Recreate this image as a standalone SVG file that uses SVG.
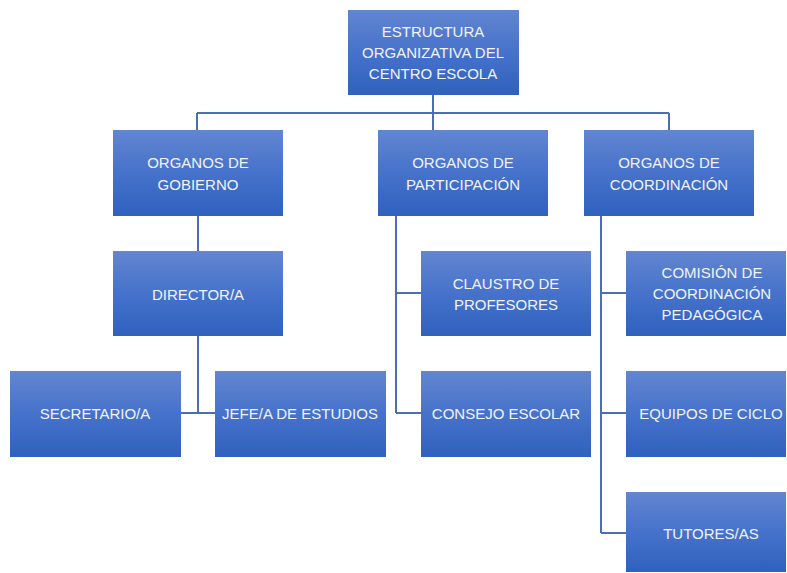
<svg xmlns="http://www.w3.org/2000/svg" width="787" height="573" viewBox="0 0 787 573">
<defs>
<linearGradient id="g" x1="0" y1="0" x2="0" y2="1">
<stop offset="0" stop-color="#6286D0"/>
<stop offset="0.5" stop-color="#4672CB"/>
<stop offset="1" stop-color="#2F61BE"/>
</linearGradient>
</defs>
<style>
.b{fill:url(#g);}
.t{font-family:"Liberation Sans",Arial,sans-serif;font-size:15px;fill:#F2F4FA;text-anchor:middle;dominant-baseline:central;}
.c{stroke:#4A6FB5;stroke-width:2;fill:none;}
</style>
<g id="connectors">
<path class="c" d="M433 95V113M197 113H669M197 113V130M433 113V130M669 113V130"/>
<path class="c" d="M198 216V251M198 336V413M181 413H215"/>
<path class="c" d="M396 216V413M396 293H421M396 413H421"/>
<path class="c" d="M601 216V533M601 293H626M601 413H626M601 533H626"/>
</g>
<g id="root"><rect class="b" x="348" y="10" width="171" height="85"/>
<text class="t" x="433" y="31">ESTRUCTURA</text><text class="t" x="433" y="52">ORGANIZATIVA DEL</text><text class="t" x="433" y="73">CENTRO ESCOLA</text></g>
<g id="gobierno"><rect class="b" x="113" y="130" width="170" height="86"/>
<text class="t" x="198" y="162">ORGANOS DE</text><text class="t" x="198" y="184">GOBIERNO</text></g>
<g id="participacion"><rect class="b" x="378" y="130" width="170" height="86"/>
<text class="t" x="463" y="162">ORGANOS DE</text><text class="t" x="463" y="184">PARTICIPACIÓN</text></g>
<g id="coordinacion"><rect class="b" x="584" y="130" width="170" height="86"/>
<text class="t" x="669" y="162">ORGANOS DE</text><text class="t" x="669" y="184">COORDINACIÓN</text></g>
<g id="director"><rect class="b" x="113" y="251" width="170" height="85"/>
<text class="t" x="198" y="294">DIRECTOR/A</text></g>
<g id="secretario"><rect class="b" x="10" y="371" width="171" height="86"/>
<text class="t" x="95" y="413">SECRETARIO/A</text></g>
<g id="jefe"><rect class="b" x="215" y="371" width="171" height="86"/>
<text class="t" x="300" y="413">JEFE/A DE ESTUDIOS</text></g>
<g id="claustro"><rect class="b" x="421" y="251" width="170" height="85"/>
<text class="t" x="506" y="283">CLAUSTRO DE</text><text class="t" x="506" y="304">PROFESORES</text></g>
<g id="consejo"><rect class="b" x="421" y="371" width="170" height="86"/>
<text class="t" x="506" y="413">CONSEJO ESCOLAR</text></g>
<g id="comision"><rect class="b" x="626" y="251" width="160" height="85"/>
<text class="t" x="712" y="272">COMISIÓN DE</text><text class="t" x="712" y="293">COORDINACIÓN</text><text class="t" x="712" y="314">PEDAGÓGICA</text></g>
<g id="equipos"><rect class="b" x="626" y="371" width="160" height="86"/>
<text class="t" x="711" y="413">EQUIPOS DE CICLO</text></g>
<g id="tutores"><rect class="b" x="626" y="492" width="160" height="80"/>
<text class="t" x="711" y="533">TUTORES/AS</text></g>
</svg>
